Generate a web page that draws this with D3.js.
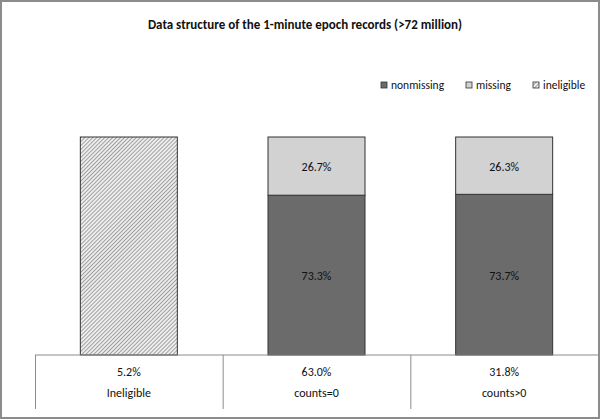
<!DOCTYPE html>
<html><head><meta charset="utf-8">
<script src="https://cdn.jsdelivr.net/npm/d3@7"></script>
<style>body{margin:0;background:#fff}svg{display:block}text{font-family:Carlito,"Liberation Sans Narrow","Liberation Sans",Arial,sans-serif}</style>
</head><body>
<svg id="c" width="600" height="419"></svg>
<script>
const categories = ["Ineligible", "counts=0", "counts>0"];
const shares = ["5.2%", "63.0%", "31.8%"];
const nonmissing = [0, 73.3, 73.7];
const missing = [0, 26.7, 26.3];
const ineligible = [100, 0, 0];
const seriesNames = ["nonmissing", "missing", "ineligible"];

const svg = d3.select("#c");
const W = 600, H = 419;
const colors = {nonmissing: "#6b6b6b", missing: "#d2d2d2", ineligible: "url(#hatch)"};

const defs = svg.append("defs");
const pat = defs.append("pattern").attr("id", "hatch").attr("patternUnits", "userSpaceOnUse")
  .attr("width", 2.8).attr("height", 2.8).attr("patternTransform", "rotate(45)");
pat.append("rect").attr("width", 2.8).attr("height", 2.8).attr("fill", "#ededed");
pat.append("line").attr("x1", 0).attr("y1", 0).attr("x2", 0).attr("y2", 2.8).attr("stroke", "#7a7a7a").attr("stroke-width", 1.3);

svg.append("rect").attr("x", 1).attr("y", 1).attr("width", W - 2).attr("height", H - 2)
  .attr("fill", "#fff").attr("stroke", "#8c8c8c").attr("stroke-width", 2);

svg.append("text").attr("x", 305).attr("y", 29).attr("text-anchor", "middle")
  .attr("font-size", 13).attr("font-weight", "bold").attr("fill", "#111")
  .text("Data structure of the 1-minute epoch records (>72 million)");

const x = d3.scaleBand().domain(categories).range([35, 598]).paddingInner(0).paddingOuter(0);
const y = d3.scaleLinear().domain([0, 100]).range([355, 137]);
const bw = 97;

const table = categories.map((c, i) => ({cat: c, nonmissing: nonmissing[i], missing: missing[i], ineligible: ineligible[i]}));
const stack = d3.stack().keys(seriesNames)(table);

stack.forEach(layer => {
  const g = svg.append("g");
  layer.forEach((d, i) => {
    if (d[1] - d[0] <= 0) return;
    const cx = x(categories[i]) + x.bandwidth() / 2;
    g.append("rect").attr("x", cx - bw / 2).attr("y", y(d[1])).attr("width", bw)
      .attr("height", y(d[0]) - y(d[1])).attr("fill", colors[layer.key])
      .attr("stroke", "#333").attr("stroke-width", 1);
    if (layer.key !== "ineligible") {
      g.append("text").attr("x", cx).attr("y", (y(d[0]) + y(d[1])) / 2 + 5)
        .attr("text-anchor", "middle").attr("font-size", 12).attr("fill", "#111")
        .text(d3.format(".1f")(d[1] - d[0]) + "%");
    }
  });
});

// table below axis
const ty0 = 355, ty1 = 409;
svg.append("line").attr("x1", 35).attr("x2", 598).attr("y1", ty0).attr("y2", ty0).attr("stroke", "#8c8c8c");
categories.forEach((c, i) => {
  const x0 = x(c);
  svg.append("line").attr("x1", x0 + 0.5).attr("x2", x0 + 0.5).attr("y1", ty0).attr("y2", ty1).attr("stroke", "#8c8c8c");
  const cx = x0 + x.bandwidth() / 2;
  svg.append("text").attr("x", cx).attr("y", 376).attr("text-anchor", "middle").attr("font-size", 12).attr("fill", "#111").text(shares[i]);
  svg.append("text").attr("x", cx).attr("y", 397).attr("text-anchor", "middle").attr("font-size", 12).attr("fill", "#111").text(c);
});

// legend
const legX = [381, 466, 533];
seriesNames.forEach((s, i) => {
  svg.append("rect").attr("x", legX[i]).attr("y", 82).attr("width", 6).attr("height", 6)
    .attr("fill", colors[s]).attr("stroke", "#333").attr("stroke-width", 0.8);
  svg.append("text").attr("x", legX[i] + 10).attr("y", 89).attr("font-size", 11.5).attr("fill", "#111").text(s);
});
</script>
</body></html>
